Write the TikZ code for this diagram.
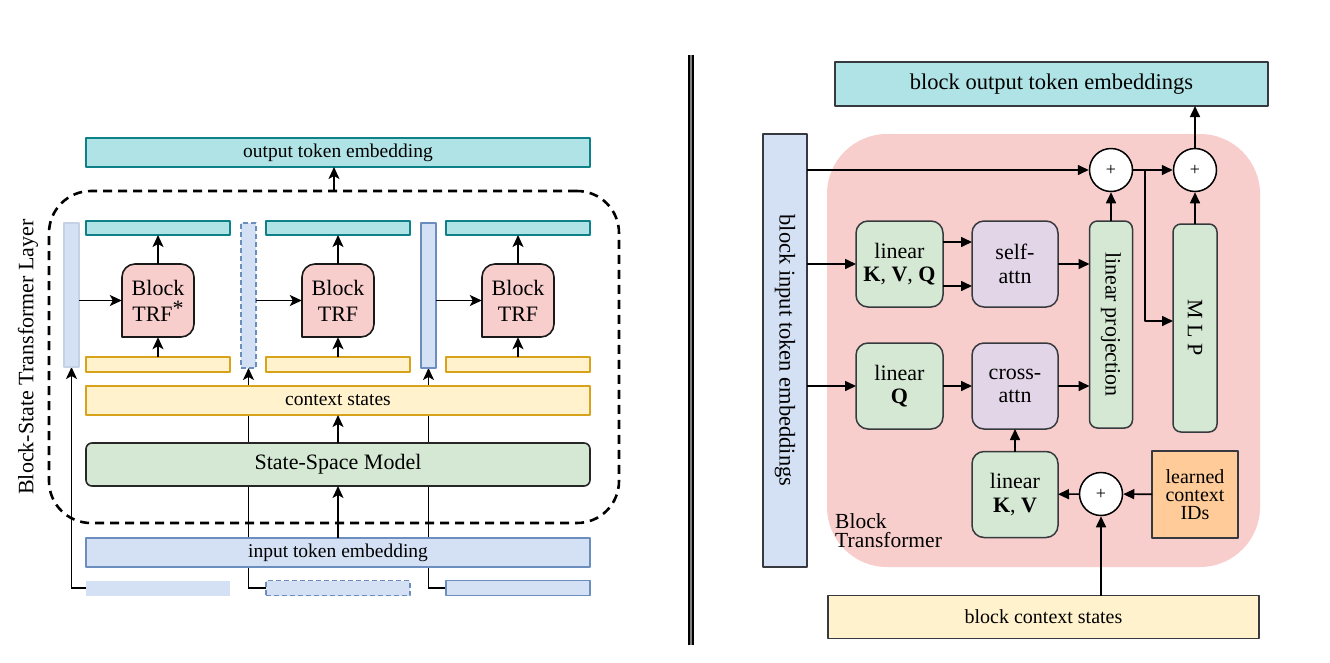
\documentclass[tikz,border=0pt]{standalone}
\usepackage{fontspec}
\setmainfont{Liberation Serif}
\usetikzlibrary{arrows.meta,positioning,backgrounds}
\definecolor{tealfill}{HTML}{B0E3E6}
\definecolor{tealline}{HTML}{0E8088}
\definecolor{yelfill}{HTML}{FFF2CC}
\definecolor{yelline}{HTML}{D9A21B}
\definecolor{bluefill}{HTML}{D4E1F5}
\definecolor{blueline}{HTML}{6C8EBF}
\definecolor{paleline}{HTML}{C5D2E6}
\definecolor{greenfill}{HTML}{D5E8D4}
\definecolor{pinkfill}{HTML}{F8CECC}
\definecolor{lilac}{HTML}{E1D5E7}
\definecolor{peach}{HTML}{FFCC99}
\definecolor{darkline}{HTML}{36393D}
\tikzset{
  dims/.style 2 args={minimum width=#1pt, minimum height=#2pt},
  bigfont/.style={font=\fontsize{22}{26}\selectfont},
  smallfont/.style={font=\fontsize{19.5}{23}\selectfont},
  flat/.style={inner sep=0pt, outer sep=0pt, line width=1.6pt},
  outbox/.style={flat, draw=tealline, fill=tealfill},
  ctxbox/.style={flat, draw=yelline, fill=yelfill},
  inbox/.style={flat, draw=blueline, fill=bluefill},
  ssmbox/.style={flat, draw=black!85, fill=greenfill, rounded corners=6pt},
  barpale/.style={flat, draw=paleline, fill=bluefill},
  bardash/.style={flat, draw=blueline, fill=bluefill, dash pattern=on 5pt off 3pt},
  trfshape/.style={draw=black!90, fill=pinkfill, line width=1.6pt},
  layerbox/.style={draw, line width=2.6pt, dash pattern=on 9pt off 6pt,
    rounded corners=42pt, inner sep=0pt},
  arrL/.style={line width=1.6pt, -{Stealth[length=12pt, width=11pt, inset=3pt]}},
  rbox/.style={flat, draw=darkline, line width=1.5pt, align=center,
    font=\fontsize{22}{23.5}\selectfont},
  lin/.style={rbox, fill=greenfill, rounded corners=12pt},
  attn/.style={rbox, fill=lilac, rounded corners=12pt},
  rout/.style={rbox, fill=tealfill, font=\fontsize{22.5}{26}\selectfont},
  rin/.style={rbox, fill=bluefill, font=\fontsize{22.5}{26}\selectfont},
  rctx/.style={rbox, fill=yelfill, font=\fontsize{20}{24}\selectfont},
  idbox/.style={rbox, fill=peach, font=\fontsize{20}{18}\selectfont},
  plus/.style={circle, draw=black, fill=white, line width=1.5pt,
    minimum size=43pt, inner sep=0pt, font=\fontsize{18}{18}\selectfont},
  pinkbg/.style={fill=pinkfill, rounded corners=60pt, inner sep=0pt},
  arrR/.style={line width=1.6pt, -{Triangle[length=11pt, width=10pt]}}
}
\begin{document}
\begin{tikzpicture}[x=1pt,y=-1pt,line join=round]
\useasboundingbox (0,0) rectangle (1330,662);

% left: one block-state layer
\node[layerbox,dims={570}{332}] (layer) at (334,357) {};
\node[bigfont,rotate=90] (layerlbl) at (28,357) {Block-State Transformer Layer};
\node[outbox,smallfont,dims={504}{29}] (outL) at (338,152.5) {output token embedding};
\foreach \i/\x/\lbl in {1/158/{TRF\raisebox{6pt}{*}},2/338/TRF,3/518/TRF}{
  \draw[trfshape] (\x-36,337) [rounded corners=13pt] -- (\x-36,264) -- (\x+36,264)
    -- (\x+36,337) [sharp corners] -- cycle;
  \node[bigfont,align=center,inner sep=0pt,dims={72}{73}] (trf\i) at (\x,300.5) {Block\\\lbl};
  \node[outbox,dims={144}{14}] (tok\i) at (\x,228) {};
  \node[ctxbox,dims={144}{15}] (cs\i) at (\x,364.5) {};
  \draw[arrL] (cs\i) -- (trf\i);
  \draw[arrL] (trf\i) -- (tok\i);
}
\node[barpale,dims={15}{144}] (bar1) at (71.5,295) {};
\node[bardash,dims={15}{145}] (bar2) at (248.5,295.5) {};
\node[inbox,dims={15}{145}] (bar3) at (428.5,295.5) {};
\foreach \i in {1,2,3} \draw[arrL] (bar\i.east |- trf\i) -- (trf\i.west);
\node[ctxbox,smallfont,dims={504}{29}] (ctx) at (338,400.5) {context states};
\node[ssmbox,bigfont,dims={504}{43}] (ssm) at (338,464.5) {State-Space Model};
\node[inbox,smallfont,dims={504}{29}] (inL) at (338,552.5) {input token embedding};
\node[barpale,draw=none,dims={144}{15}] (src1) at (158,588) {};
\node[bardash,dims={144}{15}] (src2) at (338,588) {};
\node[inbox,dims={144}{15}] (src3) at (518,588) {};
\begin{scope}[on background layer]
  \foreach \i in {1,2,3} \draw[arrL] (src\i.west) -| (bar\i.south);
\end{scope}
\draw[arrL] (inL) -- (ssm);
\draw[arrL] (ssm) -- (ctx);
\draw[arrL] (layer.north) -- (layer.north |- outL.south);

% separator
\draw[line width=2.2pt,double=gray,double distance=2pt] (690.8,55) -- (690.8,645);

% right: inside a block transformer
\node[pinkbg,dims={433}{433}] (blk) at (1043.5,350.5) {};
\node[font=\fontsize{21.5}{19}\selectfont,align=left,anchor=north west,inner sep=0pt]
  (blklbl) at (835,513) {Block\\Transformer};
\node[rout,dims={433}{44}] (outR) at (1051.5,84) {block output token embeddings};
\node[rin,dims={44}{433}] (inR) at (785,350.5) {\rotatebox{-90}{block input token embeddings}};
\node[lin,dims={87}{86}] (kvq) at (899.5,264) {linear\\\textbf{K}, \textbf{V}, \textbf{Q}};
\node[attn,dims={86}{86}] (sa) at (1015,264) {self-\\attn};
\node[lin,rounded corners=8pt,dims={43}{207}] (proj) at (1111,324.5) {\rotatebox{-90}{linear projection}};
\node[lin,rounded corners=8pt,dims={44}{208}] (mlp) at (1195,328) {\rotatebox{-90}{M L P}};
\node[plus] (add1) at (1111,170) {+};
\node[plus] (add2) at (1195,170) {+};
\node[lin,dims={87}{86}] (lq) at (899.5,386) {linear\\\textbf{Q}};
\node[attn,dims={86}{86}] (ca) at (1015,386) {cross-\\attn};
\node[lin,dims={86}{86}] (lkv) at (1015,494.5) {linear\\\textbf{K}, \textbf{V}};
\node[plus] (add3) at (1101,494) {+};
\node[idbox,dims={86}{87}] (ids) at (1195,494.5) {learned\\context\\IDs};
\node[rctx,dims={431}{43}] (bctx) at (1043.5,617) {block context states};
\coordinate (split) at (1145,170);

\draw[arrR] (inR.east |- add1) -- (add1);
\draw[arrR] (add1) -- (add2);
\draw[arrR] (split) |- (mlp.west |- 0,321);
\draw[arrR] (proj) -- (add1);
\draw[arrR] (mlp) -- (add2);
\draw[arrR] (add2) -- (add2 |- outR.south);
\draw[arrR] (inR.east |- kvq) -- (kvq);
\draw[arrR] (kvq.east |- 0,242) -- (sa.west |- 0,242);
\draw[arrR] (kvq.east |- 0,286) -- (sa.west |- 0,286);
\draw[arrR] (sa) -- (proj.west |- sa);
\draw[arrR] (inR.east |- lq) -- (lq);
\draw[arrR] (lq) -- (ca);
\draw[arrR] (ca) -- (proj.west |- ca);
\draw[arrR] (lkv) -- (ca);
\draw[arrR] (add3) -- (lkv);
\draw[arrR] (ids) -- (add3);
\draw[arrR] (bctx.north -| add3) -- (add3);
\end{tikzpicture}
\end{document}
